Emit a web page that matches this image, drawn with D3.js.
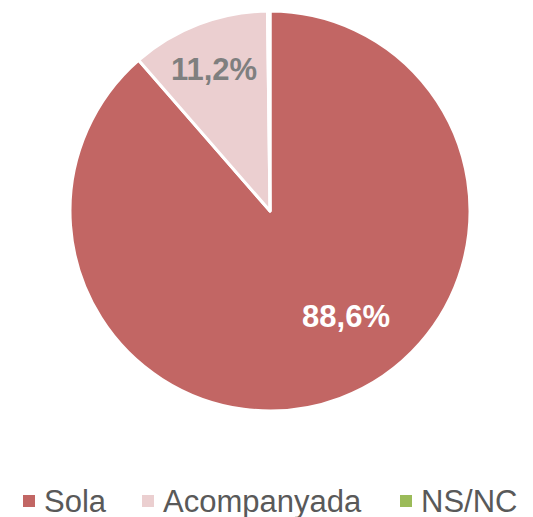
<!DOCTYPE html>
<html><head><meta charset="utf-8">
<script src="https://cdn.jsdelivr.net/npm/d3@7"></script>
<style>body{margin:0;background:#fff;}svg{display:block;}</style>
</head><body>
<svg id="c" width="533" height="517"></svg>
<script>
const categories = ["Sola", "Acompanyada", "NS/NC"];
const values = [88.6, 11.2, 0.2];
const labels = ["88,6%", "11,2%", ""];
const colors = ["#C26664", "#EBCFD0", "#9BBB59"];
const labelColors = ["#FFFFFF", "#7F7F7F", "#7F7F7F"];

const svg = d3.select("#c");
const cx = 270, cy = 211, r = 200;
const data = categories.map((c, i) => ({cat: c, v: values[i], i}));
const pie = d3.pie().sort(null).value(d => d.v);
const arcs = pie(data);
const arc = d3.arc().innerRadius(0).outerRadius(r);
const g = svg.append("g").attr("transform", `translate(${cx},${cy})`);
g.selectAll("path").data(arcs).join("path")
  .attr("d", arc).attr("fill", d => colors[d.data.i])
  .attr("stroke", "#fff").attr("stroke-width", 3).attr("stroke-linejoin", "round");

const labelPos = [[346, 327], [214, 80]];
labelPos.forEach((p, i) => {
  svg.append("text").attr("x", p[0]).attr("y", p[1])
    .attr("text-anchor", "middle")
    .attr("font-family", "Liberation Sans, Arial, sans-serif")
    .attr("font-weight", "bold").attr("font-size", 31)
    .attr("fill", labelColors[i]).text(labels[i]);
});

const legendX = [23, 142, 400];
const lg = svg.append("g");
categories.forEach((c, i) => {
  lg.append("rect").attr("x", legendX[i]).attr("y", 495).attr("width", 12).attr("height", 12)
    .attr("fill", colors[i]);
  lg.append("text").attr("x", legendX[i] + 21).attr("y", 512)
    .attr("font-family", "Liberation Sans, Arial, sans-serif")
    .attr("font-size", 31).attr("fill", "#595959").text(c);
});
</script>
</body></html>
